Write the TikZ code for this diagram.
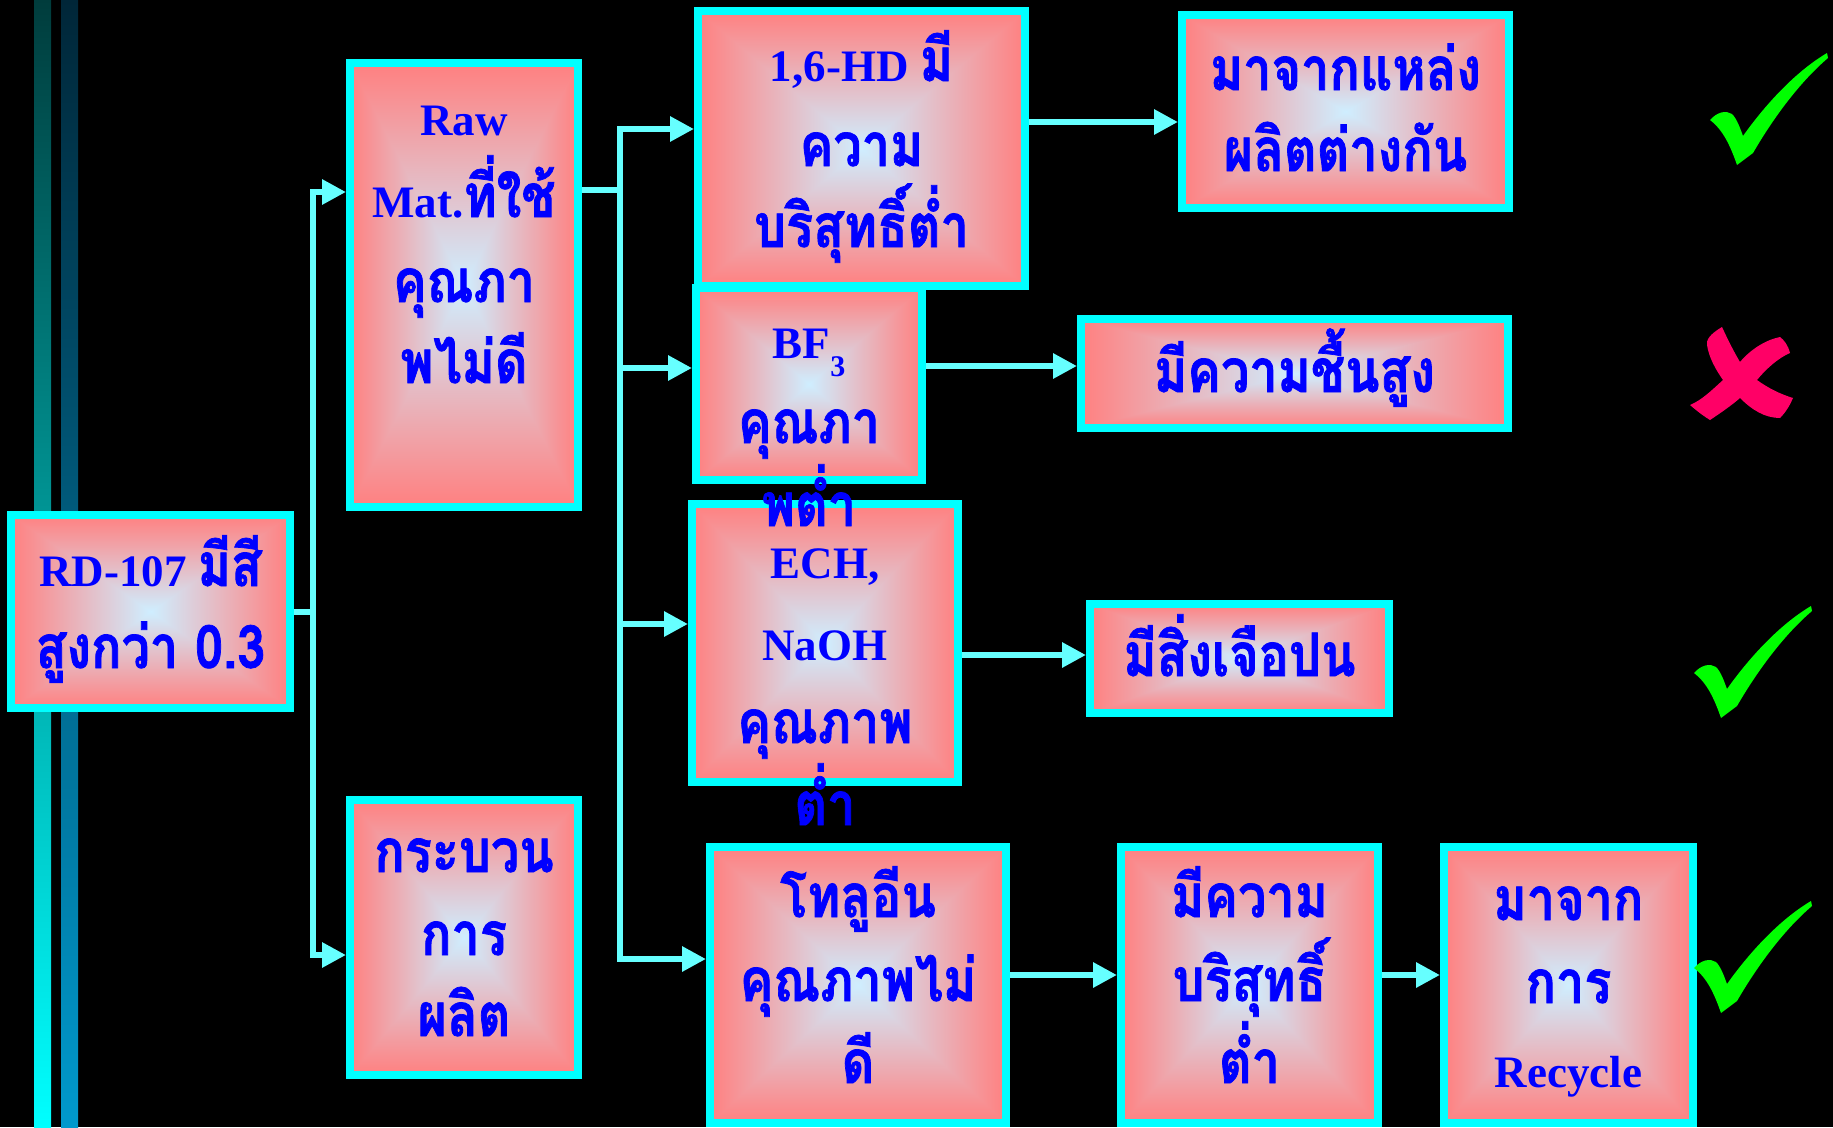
\documentclass[tikz,border=0pt]{standalone}
\usepackage{fontspec}
\setmainfont{Liberation Serif}
\newfontfamily\thai[Script=Thai,FakeStretch=0.84,FakeBold=1.2]{Loma}
\usetikzlibrary{arrows.meta}
\definecolor{bcyan}{HTML}{00FFFF}
\definecolor{lcyan}{HTML}{66FFFF}
\definecolor{gedge}{HTML}{FF8080}
\definecolor{gcen}{HTML}{CFEEFF}
\definecolor{tblue}{HTML}{0000FF}
\definecolor{chkgreen}{HTML}{00FF00}
\definecolor{crossred}{HTML}{FF0066}
\pgfdeclareverticalshading{gvs}{100bp}{color(0bp)=(gedge); color(25bp)=(gedge); color(50bp)=(gcen); color(75bp)=(gedge); color(100bp)=(gedge)}
\pgfdeclarehorizontalshading{ghs}{100bp}{color(0bp)=(gedge); color(25bp)=(gedge); color(50bp)=(gcen); color(75bp)=(gedge); color(100bp)=(gedge)}
\newcommand\tha[1]{{\thai\fontsize{60}{70}\selectfont #1}}
\tikzset{
  gbox/.style={draw=bcyan, line width=8pt, inner sep=0pt,
    path picture={
      \shade[shading=gvs] (path picture bounding box.north west) rectangle (path picture bounding box.south east);
      \shade[shading=ghs] (path picture bounding box.north west) -- (path picture bounding box.center) -- (path picture bounding box.north east) -- (path picture bounding box.south east) -- (path picture bounding box.center) -- (path picture bounding box.south west) -- cycle;
    }},
  tx/.style={text=tblue, anchor=base, inner sep=0pt, font=\bfseries\fontsize{45}{54}\selectfont},
  conn/.style={draw=lcyan, line width=6pt},
  arr/.style={conn, -{Triangle[length=24pt,width=24pt]}},
  pics/chk/.style={code={
    \fill[chkgreen] (20,80) .. controls (27,72) and (36,70) .. (42,74)
      .. controls (47,79) and (50,88) .. (53,96)
      .. controls (75,65) and (105,32) .. (137,13) -- (138,18)
      .. controls (112,40) and (85,75) .. (63,113) -- (47,125)
      .. controls (40,105) and (33,90) .. (20,80) -- cycle;}},
  pics/crs/.style={code={
    \fill[crossred] (42,7) .. controls (30,14) and (26,20) .. (27,25)
      .. controls (29,38) and (36,50) .. (43,60)
      .. controls (32,70) and (22,80) .. (10,85)
      .. controls (18,92) and (25,97) .. (30,100)
      .. controls (42,92) and (52,85) .. (60,78)
      .. controls (72,90) and (85,98) .. (100,98)
      .. controls (106,92) and (110,85) .. (113,78)
      .. controls (100,74) and (88,68) .. (77,60)
      .. controls (85,50) and (98,38) .. (110,33)
      .. controls (108,25) and (104,20) .. (100,17)
      .. controls (85,20) and (70,30) .. (60,42)
      .. controls (54,32) and (48,20) .. (42,7) -- cycle;}}
}
\begin{document}
\begin{tikzpicture}[x=1pt,y=-1pt]
\useasboundingbox (0,0) rectangle (1833,1127);
\fill[black] (0,0) rectangle (1833,1127);
% left bars
\shade[top color={rgb,255:red,0;green,60;blue,60}, bottom color=bcyan] (34,0) rectangle (51,1127);
\shade[top color={rgb,255:red,0;green,38;blue,56}, bottom color={rgb,255:red,0;green,153;blue,204}] (61,0) rectangle (78,1127);
% boxes
\node[gbox, minimum width=279pt, minimum height=193pt] (rd) at (150.5,611.5) {};
\node[gbox, minimum width=228pt, minimum height=444pt] (raw) at (464,285) {};
\node[gbox, minimum width=228pt, minimum height=275pt] (kra) at (464,937.5) {};
\node[gbox, minimum width=327pt, minimum height=275pt] (hd) at (861.5,148.5) {};
\node[gbox, minimum width=226pt, minimum height=192pt] (bf) at (809,384) {};
\node[gbox, minimum width=266pt, minimum height=278pt] (ech) at (825,643) {};
\node[gbox, minimum width=296pt, minimum height=276pt] (tol) at (858,985) {};
\node[gbox, minimum width=327pt, minimum height=193pt] (maaj) at (1345.5,111.5) {};
\node[gbox, minimum width=427pt, minimum height=109pt] (chuen) at (1294.5,373.5) {};
\node[gbox, minimum width=299pt, minimum height=109pt] (jeu) at (1239.5,658.5) {};
\node[gbox, minimum width=257pt, minimum height=276pt] (bor) at (1249.5,985) {};
\node[gbox, minimum width=249pt, minimum height=276pt] (rec) at (1568.5,985) {};
% junction coordinates
\coordinate (j1t) at (313,192);
\coordinate (j1b) at (313,955);
\coordinate (j2s) at (620,190);
\coordinate (j2a) at (620,129);
\coordinate (j2b) at (620,368);
\coordinate (j2c) at (620,624);
\coordinate (j2d) at (620,959);
\coordinate (ya) at (0,122);
\coordinate (yb) at (0,366);
\coordinate (yc) at (0,655);
\coordinate (yd) at (0,975);
% connectors
\draw[arr] (rd.east) -| (j1t) -- (raw.west |- j1t);
\draw[arr] (rd.east) -| (j1b) -- (kra.west |- j1b);
\draw[arr] (raw.east |- j2s) -| (j2a) -- (hd.west |- j2a);
\draw[arr] (raw.east |- j2s) -| (j2b) -- (bf.west |- j2b);
\draw[arr] (raw.east |- j2s) -| (j2c) -- (ech.west |- j2c);
\draw[arr] (raw.east |- j2s) -| (j2d) -- (tol.west |- j2d);
\draw[arr] (hd.east |- ya) -- (maaj.west |- ya);
\draw[arr] (bf.east |- yb) -- (chuen.west |- yb);
\draw[arr] (ech.east |- yc) -- (jeu.west |- yc);
\draw[arr] (tol.east |- yd) -- (bor.west |- yd);
\draw[arr] (bor.east |- yd) -- (rec.west |- yd);
% texts
\node[tx] (rd1) at (150.5,586) {RD-107 \tha{มีสี}};
\node[tx] (rd2) at (150.5,668) {\tha{สูงกว่า 0.3}};
\node[tx] (raw1) at (464,135) {Raw};
\node[tx] (raw2) at (464,217) {Mat.\tha{ที่ใช้}};
\node[tx] (raw3) at (464,302) {\tha{คุณภา}};
\node[tx] (raw4) at (464,383) {\tha{พไม่ดี}};
\node[tx] (kra1) at (464,872) {\tha{กระบวน}};
\node[tx] (kra2) at (464,955) {\tha{การ}};
\node[tx] (kra3) at (464,1036) {\tha{ผลิต}};
\node[tx] (hd1) at (861.5,81) {1,6-HD \tha{มี}};
\node[tx] (hd2) at (861.5,166) {\tha{ความ}};
\node[tx] (hd3) at (861.5,247) {\tha{บริสุทธิ์ต่ำ}};
\node[tx] (bf1) at (809,358) {BF\raisebox{-0.42em}{\fontsize{30}{30}\selectfont 3}};
\node[tx] (bf2) at (809,443) {\tha{คุณภา}};
\node[tx] (bf3) at (809,526) {\tha{พต่ำ}};
\node[tx] (ech1) at (825,578) {ECH,};
\node[tx] (ech2) at (825,660) {NaOH};
\node[tx] (ech3) at (825,743) {\tha{คุณภาพ}};
\node[tx] (ech4) at (825,825) {\tha{ต่ำ}};
\node[tx] (tol1) at (858,917) {\tha{โทลูอีน}};
\node[tx] (tol2) at (858,1001) {\tha{คุณภาพไม่}};
\node[tx] (tol3) at (858,1083) {\tha{ดี}};
\node[tx] (maaj1) at (1345.5,90) {\tha{มาจากแหล่ง}};
\node[tx] (maaj2) at (1345.5,171) {\tha{ผลิตต่างกัน}};
\node[tx] (chuen1) at (1294.5,392) {\tha{มีความชื้นสูง}};
\node[tx] (jeu1) at (1239.5,676) {\tha{มีสิ่งเจือปน}};
\node[tx] (bor1) at (1249.5,917) {\tha{มีความ}};
\node[tx] (bor2) at (1249.5,1001) {\tha{บริสุทธิ์}};
\node[tx] (bor3) at (1249.5,1083) {\tha{ต่ำ}};
\node[tx] (rec1) at (1568.5,920) {\tha{มาจาก}};
\node[tx] (rec2) at (1568.5,1003) {\tha{การ}};
\node[tx] (rec3) at (1568.5,1087) {Recycle};
% marks
\pic (m1) at (1690,40) {chk};
\pic (m2) at (1680,320) {crs};
\pic (m3) at (1674,593) {chk};
\pic (m4) at (1674,888) {chk};
\end{tikzpicture}
\end{document}
